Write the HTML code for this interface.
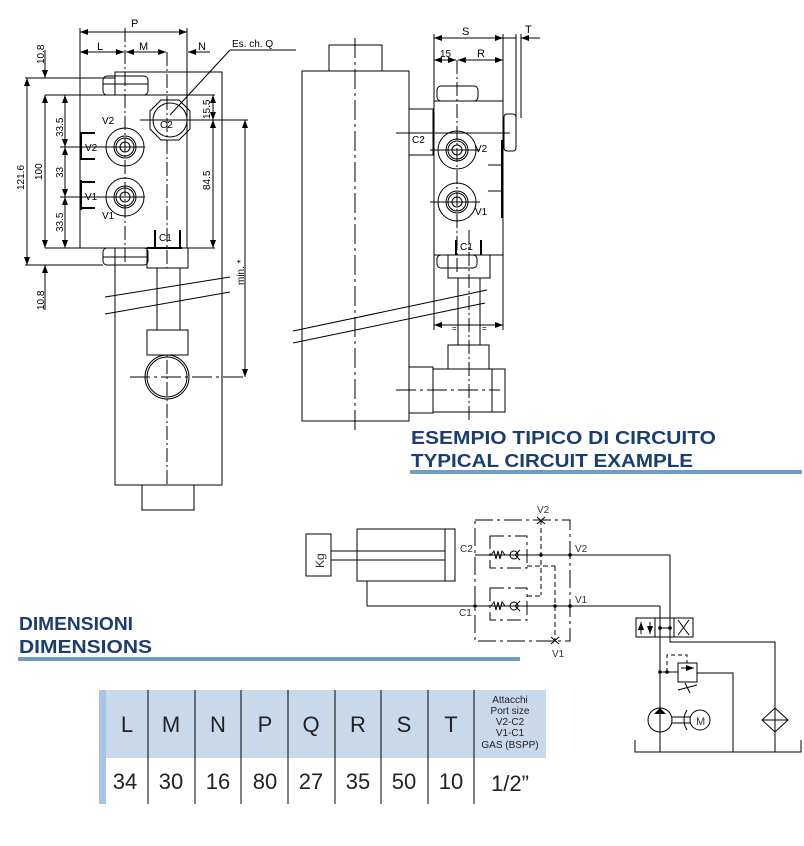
<!DOCTYPE html>
<html><head><meta charset="utf-8"><style>
html,body{margin:0;padding:0;background:#fff;}
svg{display:block;}
text{font-family:"Liberation Sans",sans-serif;}
</style></head><body>
<svg width="804" height="846" viewBox="0 0 804 846" xmlns="http://www.w3.org/2000/svg">
<defs>
<marker id="a" markerWidth="8" markerHeight="6" refX="8" refY="3" orient="auto-start-reverse" markerUnits="userSpaceOnUse"><path d="M0,0 L8,3 L0,6 z" fill="#000"/></marker>
</defs>
<g stroke="#000" stroke-width="1" fill="none">
<!-- LEFT VIEW -->
<rect x="115" y="72" width="107" height="413"/>
<rect x="142" y="485" width="52" height="25"/>
<rect x="80" y="95" width="107" height="153" fill="#fff"/>
<rect x="103" y="76" width="45" height="19" rx="4"/>
<line x1="103" y1="84" x2="148" y2="84"/>
<rect x="103" y="248" width="45" height="17" rx="4"/>
<line x1="103" y1="257" x2="148" y2="257"/>
<rect x="147" y="248" width="41" height="20"/>
<line x1="25" y1="78" x2="115" y2="78"/>
<line x1="45" y1="95" x2="215" y2="95"/>
<line x1="45" y1="248" x2="215" y2="248"/>
<line x1="25" y1="265" x2="103" y2="265"/>
<polygon points="161,100 179,100 190,111 190,129 179,140 161,140 150,129 150,111"/>
<circle cx="170" cy="120" r="17"/>
<circle cx="125" cy="147" r="19"/><circle cx="125" cy="147" r="11"/><circle cx="125" cy="147" r="9"/><circle cx="125" cy="147" r="5"/>
<circle cx="125" cy="197" r="19"/><circle cx="125" cy="197" r="11"/><circle cx="125" cy="197" r="9"/><circle cx="125" cy="197" r="5"/>
<line x1="81" y1="132" x2="81" y2="160" stroke-width="2"/><line x1="81" y1="133" x2="95" y2="133" stroke-width="2"/><line x1="81" y1="159" x2="95" y2="159" stroke-width="2"/>
<line x1="81" y1="180" x2="81" y2="210" stroke-width="2"/><line x1="81" y1="182" x2="95" y2="182" stroke-width="2"/><line x1="81" y1="208" x2="95" y2="208" stroke-width="2"/>
<line x1="155" y1="230" x2="155" y2="248" stroke-width="2"/><line x1="180" y1="230" x2="180" y2="248" stroke-width="2"/><line x1="147" y1="248" x2="182" y2="248" stroke-width="2"/>
<line x1="125" y1="28" x2="125" y2="265" stroke-dasharray="14,3,2,3"/>
<line x1="167" y1="52" x2="167" y2="485" stroke-dasharray="14,3,2,3"/>
<line x1="60" y1="147" x2="145" y2="147"/><line x1="60" y1="197" x2="145" y2="197"/>
<line x1="140" y1="120" x2="248" y2="120"/>
<line x1="80" y1="28" x2="80" y2="95"/><line x1="187" y1="28" x2="187" y2="95"/>
<line x1="80" y1="32" x2="187" y2="32" marker-start="url(#a)" marker-end="url(#a)"/>
<line x1="80" y1="52" x2="124" y2="52" marker-start="url(#a)" marker-end="url(#a)"/>
<line x1="126" y1="52" x2="166" y2="52" marker-start="url(#a)" marker-end="url(#a)"/>
<line x1="210" y1="52" x2="188" y2="52" marker-end="url(#a)"/>
<line x1="170" y1="115" x2="230" y2="50"/><line x1="230" y1="50" x2="296" y2="50"/>
<line x1="27" y1="78" x2="27" y2="265" marker-start="url(#a)" marker-end="url(#a)"/>
<line x1="45" y1="50" x2="45" y2="78" marker-end="url(#a)"/>
<line x1="45" y1="310" x2="45" y2="265" marker-end="url(#a)"/>
<line x1="45" y1="95" x2="45" y2="248" marker-start="url(#a)" marker-end="url(#a)"/>
<line x1="65" y1="95" x2="65" y2="147" marker-start="url(#a)" marker-end="url(#a)"/>
<line x1="65" y1="147" x2="65" y2="197" marker-start="url(#a)" marker-end="url(#a)"/>
<line x1="65" y1="197" x2="65" y2="248" marker-start="url(#a)" marker-end="url(#a)"/>
<line x1="213" y1="95" x2="213" y2="120" marker-start="url(#a)" marker-end="url(#a)"/>
<line x1="213" y1="120" x2="213" y2="248" marker-start="url(#a)" marker-end="url(#a)"/>
<line x1="245" y1="120" x2="245" y2="377" marker-start="url(#a)" marker-end="url(#a)"/>
<rect x="157" y="268" width="23" height="62" fill="#fff"/>
<line x1="105" y1="297" x2="230" y2="277" stroke="#000"/>
<line x1="105" y1="314" x2="230" y2="292"/>
<rect x="147" y="330" width="41" height="25" fill="#fff"/>
<circle cx="167" cy="377" r="22"/><circle cx="167" cy="377" r="20"/>
<line x1="130" y1="377" x2="245" y2="377" stroke-dasharray="20,4,3,4"/>
<!-- RIGHT VIEW -->
<rect x="302" y="71" width="107" height="350"/>
<rect x="329" y="45" width="53" height="26"/>
<line x1="355" y1="38" x2="355" y2="432" stroke-dasharray="20,4,3,4"/>
<rect x="409" y="109" width="24" height="46"/>
<rect x="434" y="101" width="69" height="154"/>
<rect x="437" y="86" width="41" height="15" rx="4"/>
<rect x="504" y="114" width="12" height="37" rx="3"/>
<line x1="396" y1="133" x2="510" y2="133"/>
<circle cx="457" cy="150" r="19"/><circle cx="457" cy="150" r="11"/><circle cx="457" cy="150" r="9"/><circle cx="457" cy="150" r="5"/>
<circle cx="457" cy="202" r="19"/><circle cx="457" cy="202" r="11"/><circle cx="457" cy="202" r="9"/><circle cx="457" cy="202" r="5"/>
<line x1="430" y1="150" x2="480" y2="150"/><line x1="430" y1="202" x2="480" y2="202"/>
<line x1="502" y1="140" x2="502" y2="218" stroke-width="2"/>
<line x1="488" y1="165" x2="502" y2="165"/><line x1="488" y1="191" x2="502" y2="191"/>
<line x1="457" y1="60" x2="457" y2="273" stroke-dasharray="14,3,2,3"/>
<line x1="456" y1="240" x2="456" y2="255" stroke-width="2"/><line x1="481" y1="240" x2="481" y2="255" stroke-width="2"/>
<rect x="437" y="255" width="40" height="13" rx="4"/>
<rect x="448" y="255" width="42" height="23"/>
<rect x="458" y="278" width="22" height="67" fill="#fff"/>
<line x1="293" y1="331" x2="487" y2="290"/>
<line x1="293" y1="343" x2="485" y2="303"/>
<line x1="469" y1="230" x2="469" y2="420" stroke-dasharray="14,3,2,3"/>
<rect x="448" y="345" width="41" height="24"/>
<rect x="433" y="369" width="72" height="43"/>
<line x1="492" y1="369" x2="492" y2="412"/>
<rect x="409" y="367" width="24" height="46"/>
<line x1="396" y1="390" x2="500" y2="390" stroke-dasharray="20,4,3,4"/>
<line x1="434" y1="34" x2="434" y2="330"/><line x1="503" y1="34" x2="503" y2="330"/>
<line x1="516" y1="34" x2="516" y2="118"/><line x1="521" y1="34" x2="521" y2="118"/>
<line x1="434" y1="38" x2="503" y2="38" marker-start="url(#a)" marker-end="url(#a)"/>
<line x1="503" y1="38" x2="516" y2="38"/>
<line x1="540" y1="38" x2="521" y2="38" marker-end="url(#a)"/>
<line x1="434" y1="60" x2="456" y2="60" marker-start="url(#a)" marker-end="url(#a)"/>
<line x1="458" y1="60" x2="503" y2="60" marker-start="url(#a)" marker-end="url(#a)"/>
<line x1="434" y1="325" x2="503" y2="325" marker-start="url(#a)" marker-end="url(#a)"/>
<!-- CIRCUIT -->
<rect x="306" y="534" width="25" height="42"/>
<line x1="331" y1="551" x2="445" y2="551"/><line x1="331" y1="560" x2="445" y2="560"/>
<rect x="357" y="529" width="98" height="52"/>
<line x1="445" y1="529" x2="445" y2="581"/>
<line x1="367" y1="581" x2="367" y2="606"/>
<line x1="367" y1="606" x2="660" y2="606"/>
<line x1="475" y1="555" x2="670" y2="555"/>
<rect x="475" y="520" width="95" height="121" stroke-dasharray="18,4,3,4"/>
<rect x="490" y="536" width="37" height="32" stroke-dasharray="14,4,3,4"/>
<rect x="490" y="588" width="37" height="32" stroke-dasharray="14,4,3,4"/>
<polyline points="520,550 515,555 520,560"/><circle cx="514" cy="555" r="4"/>
<polyline points="520,601 515,606 520,611"/><circle cx="514" cy="606" r="4"/>
<polyline points="491,555 494,551 496,559 498,551 500,559 502,551 505,555"/>
<polyline points="491,606 494,602 496,610 498,602 500,610 502,602 505,606"/>
<line x1="541" y1="520" x2="541" y2="595" stroke-dasharray="5,3"/>
<line x1="527" y1="596" x2="541" y2="596" stroke-dasharray="5,3"/>
<line x1="527" y1="566" x2="555" y2="566" stroke-dasharray="5,3"/>
<line x1="555" y1="566" x2="555" y2="641" stroke-dasharray="5,3"/>
<line x1="537" y1="517" x2="545" y2="524"/><line x1="545" y1="517" x2="537" y2="524"/>
<line x1="551" y1="637" x2="559" y2="644"/><line x1="559" y1="637" x2="551" y2="644"/>
<rect x="636" y="618" width="57" height="19"/>
<line x1="655" y1="618" x2="655" y2="637"/><line x1="674" y1="618" x2="674" y2="637"/>
<line x1="641" y1="622" x2="641" y2="634" marker-start="url(#a)"/>
<line x1="650" y1="622" x2="650" y2="634" marker-end="url(#a)"/>
<line x1="660" y1="628" x2="670" y2="628"/>
<line x1="678" y1="620" x2="689" y2="635"/><line x1="689" y1="620" x2="678" y2="635"/>
<line x1="660" y1="606" x2="660" y2="752"/>
<polyline points="670,555 670,642 775,642 775,752"/>
<rect x="678" y="663" width="19" height="19"/>
<line x1="660" y1="672" x2="678" y2="672"/>
<polyline points="667,672 667,655 687,655 687,663" stroke-dasharray="4,3"/>
<line x1="681" y1="668" x2="694" y2="668" marker-end="url(#a)"/>
<polyline points="697,673 733,673 733,752"/>
<line x1="678" y1="690" x2="697" y2="685"/>
<line x1="685" y1="683" x2="690" y2="693"/>
<circle cx="660" cy="720" r="12"/>
<line x1="672" y1="717" x2="690" y2="717"/><line x1="672" y1="723" x2="690" y2="723"/>
<path d="M687,710 Q681,720 687,730"/>
<circle cx="700" cy="720" r="10"/>
<polygon points="775,708 788,720 775,732 762,720"/>
<line x1="762" y1="720" x2="788" y2="720"/>
<polyline points="635,740 635,752 801,752 801,740"/>
</g>
<g fill="#000">
<circle cx="541" cy="555" r="1.8"/><circle cx="570" cy="555" r="1.8"/>
<circle cx="475" cy="606" r="1.8"/><circle cx="555" cy="606" r="1.8"/><circle cx="570" cy="606" r="1.8"/>
<circle cx="660" cy="628" r="1.8"/><circle cx="670" cy="628" r="1.8"/>
<circle cx="660" cy="672" r="1.8"/><circle cx="667" cy="672" r="1.8"/>
<polygon points="660,708 654,714 666,714"/>
</g>
<!-- labels -->
<g font-size="11" fill="#000">
<text x="131" y="27">P</text>
<text x="97" y="50">L</text><text x="139" y="50">M</text><text x="198" y="50">N</text>
<text x="232" y="47" font-size="10">Es. ch. Q</text>
<text x="160" y="128" font-size="10">C2</text>
<text x="102" y="124" font-size="10">V2</text><text x="85" y="151" font-size="10">V2</text>
<text x="85" y="200" font-size="10">V1</text><text x="102" y="219" font-size="10">V1</text>
<text x="159" y="241" font-size="10">C1</text>
<text x="412" y="143" font-size="10">C2</text><text x="475" y="152" font-size="10">V2</text>
<text x="475" y="215" font-size="10">V1</text><text x="460" y="250" font-size="10">C1</text>
<text x="462" y="35">S</text><text x="525" y="33">T</text>
<text x="440" y="57" font-size="10">15</text><text x="477" y="57">R</text>
<text x="452" y="331" font-size="8">=</text><text x="482" y="331" font-size="8">=</text>
<g font-size="10">
<text transform="translate(44,64) rotate(-90)">10.8</text>
<text transform="translate(44,310) rotate(-90)">10.8</text>
<text transform="translate(24,190) rotate(-90)">121.6</text>
<text transform="translate(42,180) rotate(-90)">100</text>
<text transform="translate(63,137) rotate(-90)">33.5</text>
<text transform="translate(63,178) rotate(-90)">33</text>
<text transform="translate(63,232) rotate(-90)">33.5</text>
<text transform="translate(210,119) rotate(-90)">15.5</text>
<text transform="translate(210,190) rotate(-90)">84.5</text>
<text transform="translate(244,285) rotate(-90)">min. *</text>
</g>
<g font-size="10" fill="#333">
<text x="537" y="513">V2</text><text x="575" y="552">V2</text>
<text x="460" y="552">C2</text><text x="575" y="603">V1</text>
<text x="459" y="616">C1</text><text x="552" y="657">V1</text>
<text transform="translate(324,568) rotate(-90)" font-size="12">Kg</text>
<text x="696" y="725" font-size="11">M</text>
</g>
</g>
<g font-weight="bold" fill="#1b3d70" font-size="18">
<text x="411" y="444" textLength="305" lengthAdjust="spacingAndGlyphs">ESEMPIO TIPICO DI CIRCUITO</text>
<text x="411" y="467" textLength="282" lengthAdjust="spacingAndGlyphs">TYPICAL CIRCUIT EXAMPLE</text>
<text x="19" y="630" textLength="114" lengthAdjust="spacingAndGlyphs">DIMENSIONI</text>
<text x="19" y="653" textLength="133" lengthAdjust="spacingAndGlyphs">DIMENSIONS</text>
</g>
<rect x="410" y="470" width="392" height="4" fill="#6f9cc2"/>
<rect x="18" y="657" width="502" height="4" fill="#6f9cc2"/>
<!-- table -->
<rect x="99" y="690" width="447" height="68" fill="#c9d9ec"/>
<rect x="99" y="690" width="7" height="114" fill="#a9c3e2"/>
<g stroke="#000" stroke-width="1">
<line x1="148" y1="690" x2="148" y2="804"/><line x1="195" y1="690" x2="195" y2="804"/>
<line x1="241" y1="690" x2="241" y2="804"/><line x1="288" y1="690" x2="288" y2="804"/>
<line x1="335" y1="690" x2="335" y2="804"/><line x1="381" y1="690" x2="381" y2="804"/>
<line x1="428" y1="690" x2="428" y2="804"/><line x1="474" y1="690" x2="474" y2="804"/>
</g>
<g font-size="22" fill="#222" text-anchor="middle">
<text x="127" y="732">L</text><text x="171" y="732">M</text><text x="218" y="732">N</text>
<text x="265" y="732">P</text><text x="311" y="732">Q</text><text x="358" y="732">R</text>
<text x="404" y="732">S</text><text x="451" y="732">T</text>
<text x="125" y="789">34</text><text x="171" y="789">30</text><text x="218" y="789">16</text>
<text x="265" y="789">80</text><text x="311" y="789">27</text><text x="358" y="789">35</text>
<text x="404" y="789">50</text><text x="451" y="789">10</text><text x="510" y="791">1/2”</text>
</g>
<g font-size="10" fill="#222" text-anchor="middle">
<text x="510" y="703">Attacchi</text><text x="510" y="714">Port size</text>
<text x="510" y="725">V2-C2</text><text x="510" y="736">V1-C1</text>
<text x="510" y="748">GAS (BSPP)</text>
</g>
</svg>
</body></html>
